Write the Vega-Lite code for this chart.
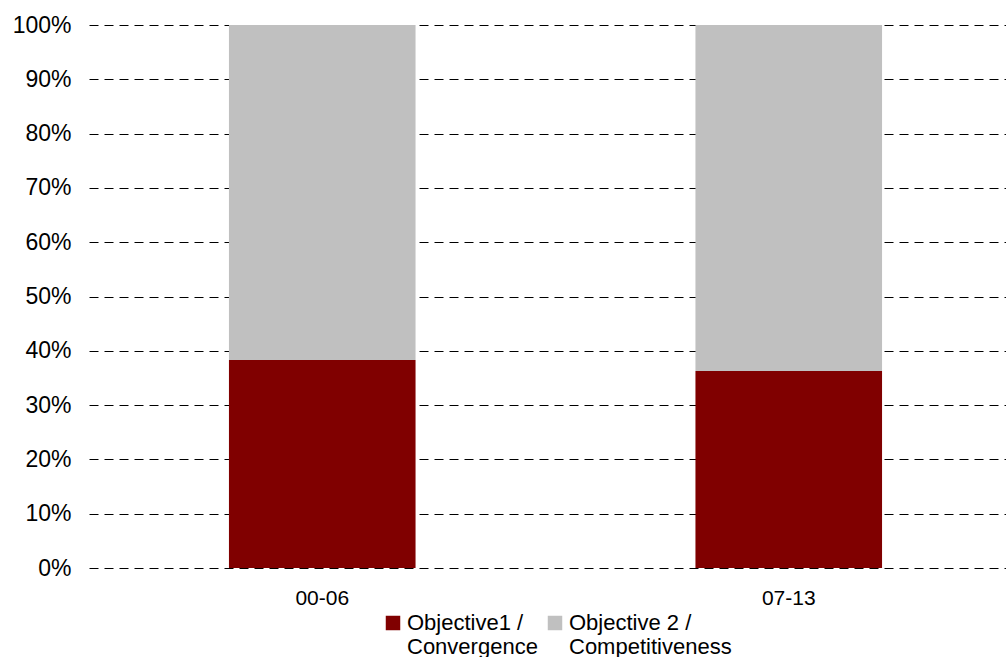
{
  "$schema": "https://vega.github.io/schema/vega-lite/v6.json",
  "width": 933,
  "height": 543,
  "autosize": {"type": "none"},
  "padding": {"left": 89, "top": 25, "right": 0, "bottom": 89},
  "background": "white",
  "config": {
    "font": "Liberation Sans",
    "view": {"stroke": null}
  },
  "data": {
    "values": [
      {"period": "00-06", "series": "Objective1 / Convergence", "k": 1, "share": 38.3},
      {"period": "00-06", "series": "Objective 2 / Competitiveness", "k": 2, "share": 61.7},
      {"period": "07-13", "series": "Objective1 / Convergence", "k": 1, "share": 36.3},
      {"period": "07-13", "series": "Objective 2 / Competitiveness", "k": 2, "share": 63.7}
    ]
  },
  "mark": {"type": "bar"},
  "encoding": {
    "x": {
      "field": "period",
      "type": "nominal",
      "scale": {"paddingInner": 0.6, "paddingOuter": 0.3},
      "axis": {
        "title": null,
        "labelAngle": 0,
        "domain": false,
        "ticks": false,
        "grid": false,
        "labelFontSize": 21,
        "labelColor": "#000",
        "labelPadding": 19
      }
    },
    "y": {
      "field": "share",
      "type": "quantitative",
      "stack": "normalize",
      "scale": {"domain": [0, 1], "nice": false},
      "axis": {
        "title": null,
        "format": ".0%",
        "values": [0, 0.1, 0.2, 0.3, 0.4, 0.5, 0.6, 0.7, 0.8, 0.9, 1],
        "domain": false,
        "ticks": false,
        "labelFontSize": 23,
        "labelColor": "#000",
        "labelPadding": 18,
        "grid": true,
        "gridColor": "#000",
        "gridDash": [9, 6],
        "gridWidth": 1,
        "gridOpacity": 1
      }
    },
    "order": {"field": "k", "type": "quantitative", "sort": "ascending"},
    "color": {
      "field": "series",
      "type": "nominal",
      "sort": ["Objective1 / Convergence", "Objective 2 / Competitiveness"],
      "scale": {
        "domain": ["Objective1 / Convergence", "Objective 2 / Competitiveness"],
        "range": ["#800000", "#C0C0C0"]
      },
      "legend": {
        "title": null,
        "orient": "none",
        "legendX": 293,
        "legendY": 587,
        "direction": "horizontal",
        "columns": 2,
        "columnPadding": 6,
        "symbolType": "square",
        "symbolSize": 210,
        "symbolStrokeWidth": 0,
        "symbolOpacity": 1,
        "labelFontSize": 22,
        "labelColor": "#000",
        "labelLimit": 400,
        "labelOffset": 3,
        "labelBaseline": "middle",
        "labelLineHeight": 33,
        "labelExpr": "split(replace(datum.label, '/ ', '/|'), '|')"
      }
    }
  }
}
